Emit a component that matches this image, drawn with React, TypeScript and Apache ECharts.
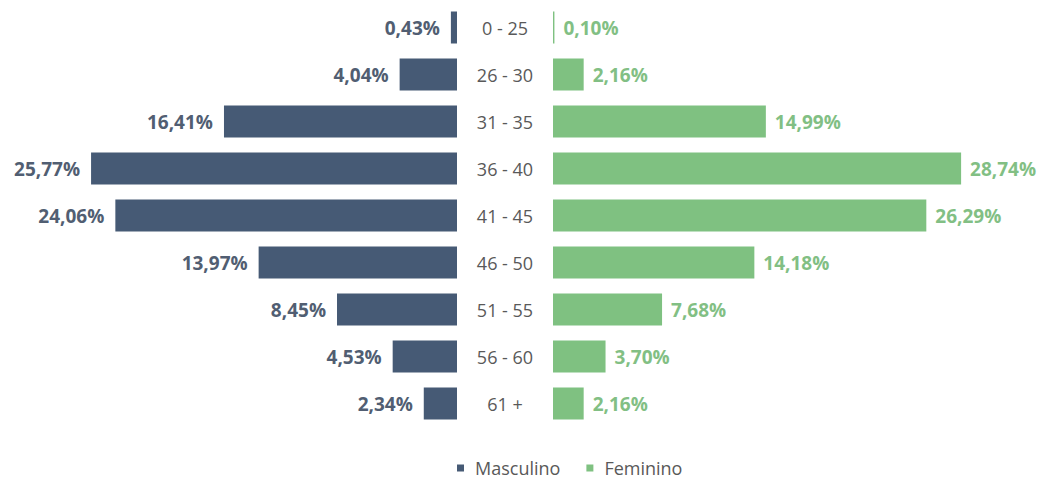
import React, { useEffect, useRef } from "react";
import * as echarts from "echarts";

const categories = ["0 - 25", "26 - 30", "31 - 35", "36 - 40", "41 - 45", "46 - 50", "51 - 55", "56 - 60", "61 +"];
const masculino = [0.43, 4.04, 16.41, 25.77, 24.06, 13.97, 8.45, 4.53, 2.34];
const feminino = [0.1, 2.16, 14.99, 28.74, 26.29, 14.18, 7.68, 3.7, 2.16];

const BLUE = "#465a75";
const GREEN = "#7fc181";
const FONT = "'Open Sans', 'Noto Sans', sans-serif";

const fmt = (p: any) => p.value.toFixed(2).replace(".", ",") + "%";

export default function App() {
  const ref = useRef<HTMLDivElement>(null);
  useEffect(() => {
    document.body.style.margin = "0";
    const chart = echarts.init(ref.current!, null, { renderer: "svg" });
    chart.setOption({
      animation: false,
      backgroundColor: "#ffffff",
      legend: {
        left: 457,
        top: 459,
        padding: 0,
        icon: "rect",
        itemWidth: 7,
        itemHeight: 7,
        itemGap: 26,
        textStyle: {
          fontFamily: FONT,
          fontSize: 18,
          lineHeight: 18,
          color: "#595959",
          padding: [0, 0, 0, 6],
        },
        data: ["Masculino", "Feminino"],
      },
      grid: [
        { left: 31, width: 426, top: 4, height: 423 },
        { left: 553, width: 426, top: 4, height: 423 },
      ],
      xAxis: [
        { gridIndex: 0, type: "value", min: 0, max: 30, inverse: true, show: false },
        { gridIndex: 1, type: "value", min: 0, max: 30, show: false },
      ],
      yAxis: [
        { gridIndex: 0, type: "category", data: categories, inverse: true, show: false },
        {
          gridIndex: 1,
          type: "category",
          data: categories,
          inverse: true,
          axisLine: { show: false },
          axisTick: { show: false },
          axisLabel: {
            margin: 48,
            align: "center",
            fontFamily: FONT,
            fontSize: 18,
            color: "#595959",
          },
        },
      ],
      series: [
        {
          name: "Masculino",
          type: "bar",
          xAxisIndex: 0,
          yAxisIndex: 0,
          data: masculino,
          barWidth: 32,
          itemStyle: { color: BLUE },
          label: {
            show: true,
            position: "left",
            distance: 11,
            formatter: fmt,
            fontFamily: FONT,
            fontSize: 19,
            fontWeight: "bold",
            color: "#515e72",
          },
        },
        {
          name: "Feminino",
          type: "bar",
          xAxisIndex: 1,
          yAxisIndex: 1,
          data: feminino,
          barWidth: 32,
          itemStyle: { color: GREEN },
          label: {
            show: true,
            position: "right",
            distance: 9,
            formatter: fmt,
            fontFamily: FONT,
            fontSize: 19,
            fontWeight: "bold",
            color: "#82bf84",
          },
        },
      ],
    });
    return () => chart.dispose();
  }, []);
  return <div ref={ref} style={{ width: 1039, height: 480 }} />;
}
